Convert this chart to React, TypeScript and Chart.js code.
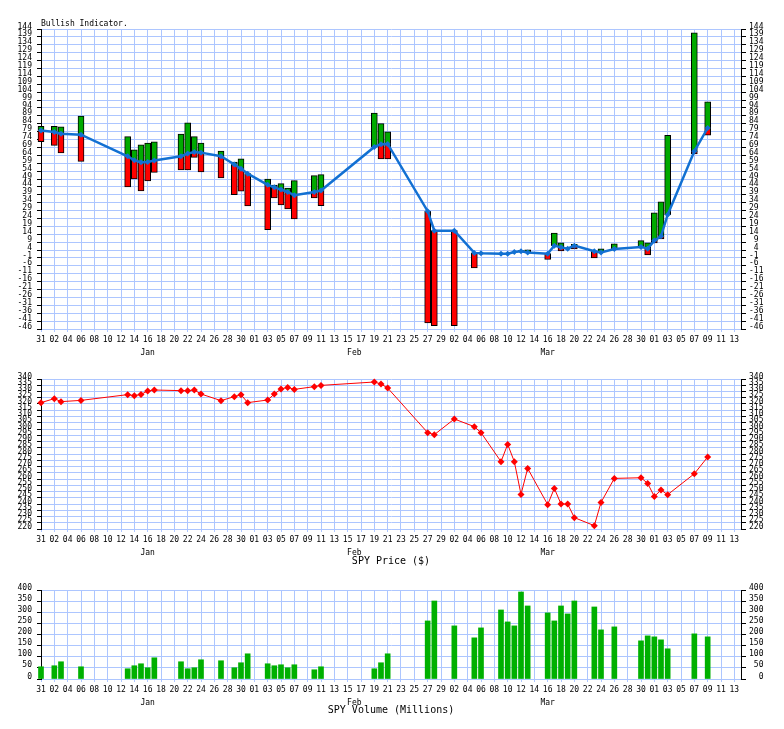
import React, { useEffect, useRef } from "react";
import { Chart, registerables } from "chart.js";

Chart.register(...registerables);

// ---------- data ----------
const dates = [
  "2019-12-31", "2020-01-02", "2020-01-03", "2020-01-06",
  "2020-01-13", "2020-01-14", "2020-01-15", "2020-01-16", "2020-01-17",
  "2020-01-21", "2020-01-22", "2020-01-23", "2020-01-24",
  "2020-01-27", "2020-01-29", "2020-01-30", "2020-01-31",
  "2020-02-03", "2020-02-04", "2020-02-05", "2020-02-06", "2020-02-07",
  "2020-02-10", "2020-02-11",
  "2020-02-19", "2020-02-20", "2020-02-21",
  "2020-02-27", "2020-02-28", "2020-03-02",
  "2020-03-05", "2020-03-06",
  "2020-03-09", "2020-03-10", "2020-03-11", "2020-03-12", "2020-03-13",
  "2020-03-16", "2020-03-17", "2020-03-18", "2020-03-19", "2020-03-20",
  "2020-03-23", "2020-03-24", "2020-03-26",
  "2020-03-30", "2020-03-31", "2020-04-01", "2020-04-02", "2020-04-03",
  "2020-04-07", "2020-04-09",
];

const bullLine = [
  79.7, 78.7, 77.7, 77.1,
  63.4, 60.8, 59.6, 59.8, 60.7,
  63.4, 65.1, 66.1, 65.7,
  63.4, 58.2, 55.5, 52.4,
  45.3, 43.7, 42.3, 40.8, 38.7,
  40.8, 41.7,
  69.3, 71.0, 71.2,
  28.6, 16.3, 16.3,
  2.2, 1.9,
  1.7, 1.7, 2.8, 3.2, 2.4,
  1.7, 6.8, 5.7, 4.9, 6.8,
  3.2, 2.5, 4.7,
  6.0, 4.9, 10.0, 12.7, 26.4,
  66.5, 81.3,
];

const bullHigh = [
  82.4, 82.4, 82.0, 88.9,
  75.8, 67.4, 70.6, 71.8, 72.5,
  77.5, 84.5, 75.8, 71.8,
  66.7, 59.7, 61.7, 52.4,
  49.0, 45.2, 46.1, 43.2, 48.0,
  51.1, 51.8,
  90.8, 84.1, 78.8,
  28.6, 16.3, 16.3,
  2.2, 1.9,
  1.7, 1.7, 2.8, 3.7, 4.2,
  1.7, 14.8, 8.5, 4.9, 7.7,
  3.2, 4.7, 7.9,
  10.0, 8.5, 27.5, 34.5, 76.7,
  141.5, 97.8,
];

const bullLow = [
  72.7, 70.3, 65.5, 60.2,
  44.0, 49.0, 41.4, 47.8, 53.2,
  54.7, 54.7, 62.7, 53.5,
  49.7, 39.0, 41.3, 31.9,
  16.9, 37.0, 32.6, 30.0, 23.7,
  37.0, 32.1,
  69.3, 61.7, 61.7,
  -42.2, -43.9, -43.9,
  -7.3, 1.9,
  1.7, 1.7, 2.8, 3.2, 2.4,
  -2.0, 6.8, 3.4, 4.9, 4.7,
  -1.0, 2.5, 4.7,
  6.0, 0.9, 8.5, 11.0, 26.4,
  64.9, 76.7,
];

const spyPrice = [
  321.1, 324.3, 321.9, 322.9,
  327.5, 326.7, 327.7, 330.4, 331.2,
  330.7, 330.7, 331.2, 328.0,
  322.7, 325.9, 327.5, 321.1,
  323.2, 328.0, 332.0, 333.3, 331.7,
  333.9, 334.9,
  337.6, 336.0, 332.8,
  297.1, 295.5, 308.0,
  301.9, 297.1,
  273.9, 287.7, 273.9, 247.7, 268.5,
  239.5, 252.5, 240.0, 240.0, 229.1,
  222.7, 241.3, 260.5,
  261.0, 256.5, 246.0, 251.2, 247.5,
  264.2, 277.6,
];

const spyVolume = [
  55, 59.6, 77.5, 55,
  46, 59.6, 68.5, 50.6, 95.4,
  77.5, 46, 50.6, 86.4,
  82, 50.6, 73, 113.3,
  68.5, 59.6, 64, 50.6, 64,
  41.5, 55,
  46, 73, 113.3,
  261, 350.6, 238.7,
  185, 229.7,
  310.3, 256.6, 238.7, 391, 328.3,
  297, 261, 328.3, 292.5, 350.6,
  323.8, 220.8, 234.2,
  171.5, 193.9, 189.4, 176, 135.7,
  202.9, 189.4,
];

// tick labels every 2 days starting 2019-12-31
const xTickLabels = [
  "31", "02", "04", "06", "08", "10", "12", "14", "16", "18", "20", "22", "24", "26", "28", "30",
  "01", "03", "05", "07", "09", "11", "13", "15", "17", "19", "21", "23", "25", "27", "29",
  "02", "04", "06", "08", "10", "12", "14", "16", "18", "20", "22", "24", "26", "28", "30",
  "01", "03", "05", "07", "09", "11", "13",
];

const monthLabels = ["Jan", "Feb", "Mar"];
const monthLabelDates = ["2020-01-16", "2020-02-16", "2020-03-16"];

const bullTicks = [
  -46, -41, -36, -31, -26, -21, -16, -11, -6, -1, 4, 9, 14, 19, 24, 29, 34, 39, 44, 49,
  54, 59, 64, 69, 74, 79, 84, 89, 94, 99, 104, 109, 114, 119, 124, 129, 134, 139, 144,
];
const priceTicks = [
  220, 225, 230, 235, 240, 245, 250, 255, 260, 265, 270, 275, 280, 285, 290, 295, 300,
  305, 310, 315, 320, 325, 330, 335, 340,
];
const volumeTicks = [0, 50, 100, 150, 200, 250, 300, 350, 400];

// ---------- helpers ----------
const BASE = Date.UTC(2019, 11, 31);
const dayOf = (d: string) => {
  const [y, m, dd] = d.split("-").map(Number);
  return (Date.UTC(y, m - 1, dd) - BASE) / 86400000;
};

const FAMILY = "'DejaVu Sans Mono', monospace";
const tickFont = { family: FAMILY, size: 8 };
const GRID = "#adc6ff";
const BLUE = "#1270d2";

function xScale(axisHeight: number) {
  return {
    type: "linear",
    position: "bottom",
    min: 0,
    max: 105,
    offset: false,
    afterBuildTicks: (s: any) => {
      s.ticks = xTickLabels.map((_, i) => ({ value: i * 2 }));
    },
    ticks: {
      autoSkip: false,
      maxRotation: 0,
      minRotation: 0,
      font: tickFont,
      color: "#000",
      padding: 3,
      callback: (_v: any, i: number) => xTickLabels[i] ?? "",
    },
    grid: { color: GRID, tickColor: GRID, tickLength: 3, lineWidth: 1, offset: false },
    border: { color: GRID },
    afterFit: (s: any) => {
      s.height = axisHeight;
    },
  };
}

function yScale(position: "left" | "right", min: number, max: number, ticks: number[], width: number, pad: number) {
  return {
    type: "linear",
    position,
    min,
    max,
    afterBuildTicks: (s: any) => {
      s.ticks = ticks.map((v) => ({ value: v }));
    },
    ticks: {
      autoSkip: false,
      font: tickFont,
      color: "#000",
      padding: position === "left" ? 5 : 3,
      labelOffset: -2.5,
      callback: (v: any) => (position === "right" ? String(v).padStart(pad, " ") : String(v)),
    },
    grid: {
      color: GRID,
      tickColor: "#000",
      tickLength: position === "left" ? 4 : 5,
      drawOnChartArea: position === "left",
    },
    border: { color: "#000" },
    afterFit: (s: any) => {
      s.width = width;
    },
  };
}

type TextItem = {
  text: string;
  font: string;
  align: CanvasTextAlign;
  x?: number;
  day?: number;
  center?: boolean;
  y?: number;
  dy?: number;
};

function textPlugin(items: TextItem[]) {
  return {
    id: "panelText",
    afterDraw(chart: any) {
      const { ctx, chartArea } = chart;
      const xs = chart.scales.x;
      ctx.save();
      ctx.fillStyle = "#000";
      ctx.textBaseline = "middle";
      items.forEach((it) => {
        ctx.font = it.font;
        ctx.textAlign = it.align;
        let x = it.x ?? 0;
        if (it.day !== undefined) x = xs.getPixelForValue(it.day);
        if (it.center) x = (chartArea.left + chartArea.right) / 2;
        const y = it.y !== undefined ? it.y : chartArea.bottom + (it.dy ?? 0);
        ctx.fillText(it.text, x, y);
      });
      ctx.restore();
    },
  };
}

const monthItems = (dy: number): TextItem[] =>
  monthLabels.map((m, i) => ({
    text: m,
    font: `8px ${FAMILY}`,
    align: "center" as CanvasTextAlign,
    day: dayOf(monthLabelDates[i]),
    dy,
  }));

function baseOptions(padTop: number, axisHeight: number, min: number, max: number, ticks: number[], rightPad: number) {
  return {
    animation: false,
    responsive: false,
    devicePixelRatio: 1,
    events: [],
    layout: { padding: { top: padTop, left: 0, right: 0, bottom: 0 } },
    plugins: { legend: { display: false }, tooltip: { enabled: false }, title: { display: false } },
    scales: {
      x: xScale(axisHeight),
      y: yScale("left", min, max, ticks, 41, rightPad),
      y2: yScale("right", min, max, ticks, 43, rightPad),
    },
  };
}

// ---------- chart configs ----------
function bullConfig(): any {
  const xs = dates.map(dayOf);
  const green: any[] = [];
  const red: any[] = [];
  xs.forEach((x, i) => {
    if (bullHigh[i] > bullLine[i]) green.push({ x, y: [bullLine[i], bullHigh[i]] });
    if (bullLow[i] < bullLine[i]) red.push({ x, y: [bullLow[i], bullLine[i]] });
  });
  return {
    type: "bar",
    data: {
      datasets: [
        {
          type: "line",
          data: xs.map((x, i) => ({ x, y: bullLine[i] })),
          borderColor: BLUE,
          borderWidth: 2.5,
          pointStyle: "rectRot",
          pointRadius: 3,
          pointBackgroundColor: BLUE,
          pointBorderColor: BLUE,
          pointBorderWidth: 0,
          tension: 0,
          order: 0,
          clip: false,
          yAxisID: "y",
        },
        {
          type: "bar",
          data: green,
          backgroundColor: "#00aa00",
          borderColor: "#000",
          borderWidth: 1,
          borderSkipped: false,
          barThickness: 6,
          grouped: false,
          order: 1,
          clip: false,
          yAxisID: "y",
        },
        {
          type: "bar",
          data: red,
          backgroundColor: "#ff0000",
          borderColor: "#000",
          borderWidth: 1,
          borderSkipped: false,
          barThickness: 6,
          grouped: false,
          order: 1,
          clip: false,
          yAxisID: "y",
        },
      ],
    },
    options: baseOptions(29, 31, -46, 144, bullTicks, 2),
    plugins: [
      textPlugin([
        { text: "Bullish Indicator.", font: `8px ${FAMILY}`, align: "left", x: 41, y: 24 },
        ...monthItems(24),
      ]),
    ],
  };
}

function priceConfig(): any {
  const xs = dates.map(dayOf);
  return {
    type: "line",
    data: {
      datasets: [
        {
          data: xs.map((x, i) => ({ x, y: spyPrice[i] })),
          borderColor: "#ff0000",
          borderWidth: 1,
          pointStyle: "rectRot",
          pointRadius: 3.5,
          pointBackgroundColor: "#ff0000",
          pointBorderColor: "#ff0000",
          pointBorderWidth: 0,
          tension: 0,
          clip: false,
          yAxisID: "y",
        },
      ],
    },
    options: baseOptions(19, 41, 220, 340, priceTicks, 3),
    plugins: [
      textPlugin([
        ...monthItems(24),
        { text: "SPY Price ($)", font: `10px ${FAMILY}`, align: "center", center: true, dy: 32 },
      ]),
    ],
  };
}

function volumeConfig(): any {
  const xs = dates.map(dayOf);
  return {
    type: "bar",
    data: {
      datasets: [
        {
          data: xs.map((x, i) => ({ x, y: spyVolume[i] })),
          backgroundColor: "#00b000",
          borderWidth: 0,
          barThickness: 5,
          clip: false,
          yAxisID: "y",
        },
      ],
    },
    options: baseOptions(20, 50, 0, 400, volumeTicks, 3),
    plugins: [
      textPlugin([
        ...monthItems(24),
        { text: "SPY Volume (Millions)", font: `10px ${FAMILY}`, align: "center", center: true, dy: 31.5 },
      ]),
    ],
  };
}

// ---------- components ----------
function Panel({ top, height, build }: { top: number; height: number; build: () => any }) {
  const ref = useRef<HTMLCanvasElement>(null);
  useEffect(() => {
    const chart = new Chart(ref.current as HTMLCanvasElement, build());
    return () => chart.destroy();
  }, []);
  return (
    <canvas
      ref={ref}
      width={784}
      height={height}
      style={{ position: "absolute", left: 0, top, width: 784, height }}
    />
  );
}

export default function App() {
  return (
    <div style={{ position: "absolute", left: 0, top: 0, width: 784, height: 729, background: "#fff" }}>
      <Panel top={0} height={360} build={bullConfig} />
      <Panel top={360} height={210} build={priceConfig} />
      <Panel top={570} height={159} build={volumeConfig} />
    </div>
  );
}
